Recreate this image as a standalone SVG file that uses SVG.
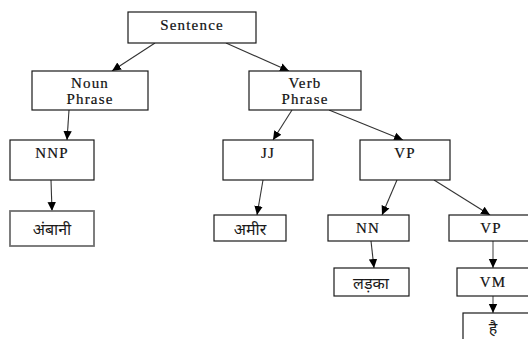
<svg xmlns="http://www.w3.org/2000/svg" width="528" height="339" viewBox="0 0 528 339">
<style>
.b{fill:#fff;stroke:#1a1a1a;stroke-width:1.2}
.g{fill:#fff;stroke:#707070;stroke-width:1.8}
.t{font-family:"Liberation Serif","Times New Roman",serif;font-size:15px;fill:#111;stroke:#111;stroke-width:0.2;text-anchor:middle;letter-spacing:1.2px}
.d{font-family:"Noto Sans","Noto Sans Devanagari","Lohit Devanagari",sans-serif;font-size:16px;fill:#1a1a1a;text-anchor:middle}
.c{stroke:#333;stroke-width:1.1;fill:none;marker-end:url(#ah)}
.cg{stroke:#888;stroke-width:1.6;fill:none;marker-end:url(#ah)}
</style>
<defs>
<marker id="ah" markerUnits="userSpaceOnUse" markerWidth="10" markerHeight="10" refX="9" refY="5" orient="auto">
<path d="M0,0.8 L9,5 L0,9.2 Z" fill="#000"/>
</marker>
</defs>
<rect width="528" height="339" fill="#fff"/>
<g id="connectors">
<line class="c" x1="155" y1="43" x2="112" y2="71"/>
<line class="c" x1="226" y1="43" x2="289" y2="71"/>
<line class="c" x1="69" y1="110" x2="67" y2="140"/>
<line class="c" x1="292" y1="110" x2="273" y2="140"/>
<line class="c" x1="329" y1="110" x2="403" y2="140"/>
<line class="c" x1="51" y1="180" x2="52" y2="211"/>
<line class="c" x1="263" y1="180" x2="257" y2="215"/>
<line class="c" x1="397" y1="180" x2="382" y2="215"/>
<line class="c" x1="434" y1="180" x2="490" y2="215"/>
<line class="c" x1="371" y1="241" x2="374" y2="268"/>
<line class="cg" x1="493" y1="241" x2="493" y2="268"/>
<line class="cg" x1="493" y1="296" x2="493" y2="313"/>
</g>
<g id="sentence"><rect class="b" x="128" y="12" width="128" height="31"/><text class="t" x="192" y="30">Sentence</text></g>
<g id="noun-phrase"><rect class="b" x="32" y="71" width="116" height="39"/><text class="t" x="90" y="88">Noun</text><text class="t" x="90" y="104">Phrase</text></g>
<g id="verb-phrase"><rect class="b" x="249" y="71" width="112" height="39"/><text class="t" x="305" y="88">Verb</text><text class="t" x="305" y="104">Phrase</text></g>
<g id="nnp"><rect class="b" x="10" y="140" width="84" height="40"/><text class="t" x="52" y="158">NNP</text></g>
<g id="jj"><rect class="b" x="223" y="140" width="90" height="40"/><text class="t" x="268" y="158">JJ</text></g>
<g id="vp1"><rect class="b" x="360" y="140" width="90" height="40"/><text class="t" x="405" y="158">VP</text></g>
<g id="ambani"><rect class="g" x="10" y="211" width="84" height="35"/><text class="d" x="52" y="235">अंबानी</text></g>
<g id="amir"><rect class="b" x="214" y="215" width="72" height="26"/><text class="d" x="250" y="235">अमीर</text></g>
<g id="nn"><rect class="b" x="328" y="215" width="81" height="26"/><text class="t" x="368" y="233">NN</text></g>
<g id="vp2"><rect class="b" x="449" y="215" width="85" height="26"/><text class="t" x="491" y="233">VP</text></g>
<g id="ladka"><rect class="b" x="334" y="268" width="75" height="28"/><text class="d" x="371" y="289">लड़का</text></g>
<g id="vm"><rect class="b" x="457" y="268" width="80" height="28"/><text class="t" x="493" y="287">VM</text></g>
<g id="hai"><rect class="b" x="463" y="313" width="80" height="35"/><text class="d" x="493" y="334">है</text></g>
</svg>
